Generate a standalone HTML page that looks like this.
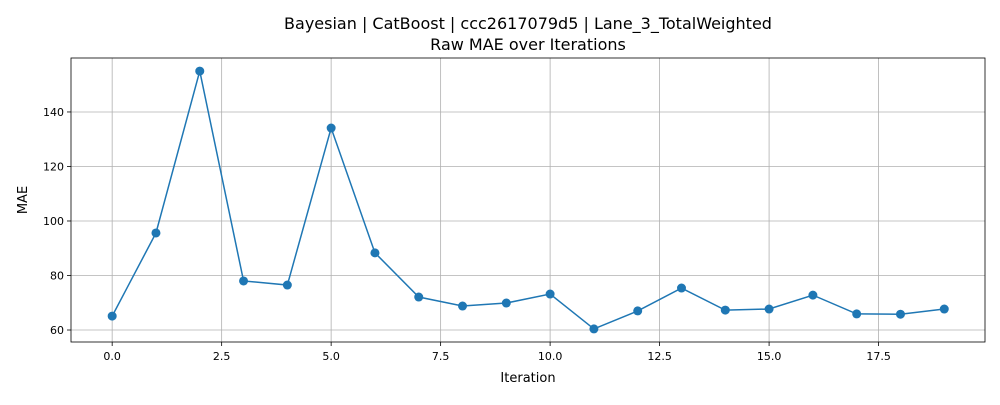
<!DOCTYPE html>
<html><head><meta charset="utf-8"><style>
body{margin:0;background:#fff;font-family:"Liberation Sans","DejaVu Sans",sans-serif;}
svg text{font-family:"DejaVu Sans","Liberation Sans",sans-serif;}
</style></head><body>
<svg id="chart" width="1000" height="400" xmlns="http://www.w3.org/2000/svg"></svg>
<script>
const iterations=[0,1,2,3,4,5,6,7,8,9,10,11,12,13,14,15,16,17,18,19];
const maeValues=[65.1,95.6,155,78,76.5,134.1,88.3,72.1,68.8,69.9,73.2,60.4,67,75.4,67.3,67.7,72.8,65.9,65.8,67.7];
const xTicks=[0,2.5,5,7.5,10,12.5,15,17.5];
const xTickLabels=["0.0","2.5","5.0","7.5","10.0","12.5","15.0","17.5"];
const yTicks=[60,80,100,120,140];
const yTickLabels=["60","80","100","120","140"];

const L=71,R=985,T=58,B=342;
const xMin=-0.94,xMax=19.93,yMin=55.6,yMax=159.8;
const xs=v=>L+(v-xMin)/(xMax-xMin)*(R-L);
const ys=v=>B-(v-yMin)/(yMax-yMin)*(B-T);
const svg=document.getElementById('chart');
const NS="http://www.w3.org/2000/svg";
function mk(tag,attrs,parent){const e=document.createElementNS(NS,tag);for(const k in attrs)e.setAttribute(k,attrs[k]);(parent||svg).appendChild(e);return e;}

const grid=mk('g',{});


xTicks.forEach((t,i)=>{
  const x=xs(t);
  mk('line',{x1:x,x2:x,y1:T,y2:B,stroke:'#b0b0b0','stroke-width':0.8},grid);
  mk('line',{x1:x,x2:x,y1:B,y2:B+4,stroke:'#000','stroke-width':0.8});
  const tx=mk('text',{x:x,y:B+18,'font-size':11,'text-anchor':'middle'});
  tx.textContent=xTickLabels[i];
  
  
});
yTicks.forEach((t,i)=>{
  const y=ys(t);
  mk('line',{x1:L,x2:R,y1:y,y2:y,stroke:'#b0b0b0','stroke-width':0.8},grid);
  mk('line',{x1:L-4,x2:L,y1:y,y2:y,stroke:'#000','stroke-width':0.8});
  const tx=mk('text',{x:L-7,y:y+4,'font-size':11,'text-anchor':'end'});
  tx.textContent=yTickLabels[i];
  
  
});
const frame=mk('rect',{x:L,y:T,width:R-L,height:B-T,fill:'none',stroke:'#000','stroke-width':0.8});



const line=mk('polyline',{points:iterations.map((v,i)=>xs(v)+','+ys(maeValues[i])).join(' '),fill:'none',stroke:'#1f77b4','stroke-width':1.5});


iterations.forEach((v,i)=>{
  const c=mk('circle',{cx:xs(v),cy:ys(maeValues[i]),r:4.5,fill:'#1f77b4'});
  
  
});

const t1=mk('text',{x:528,y:29,'font-size':16,'text-anchor':'middle'});
t1.textContent='Bayesian | CatBoost | ccc2617079d5 | Lane_3_TotalWeighted';


const t2=mk('text',{x:528,y:50,'font-size':16,'text-anchor':'middle'});
t2.textContent='Raw MAE over Iterations';


const xl=mk('text',{x:528,y:382,'font-size':13,'text-anchor':'middle'});
xl.textContent='Iteration';


const yl=mk('text',{x:0,y:0,'font-size':13,'text-anchor':'middle',transform:'translate(27,200) rotate(-90)'});
yl.textContent='MAE';


</script>
</body></html>
